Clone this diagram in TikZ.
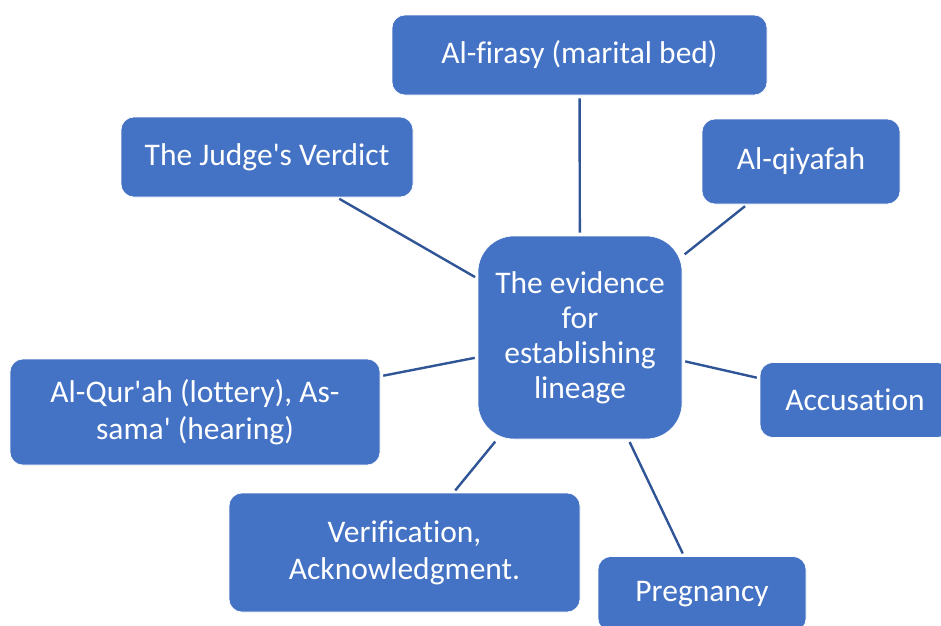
\documentclass[tikz,border=0pt]{standalone}
\usepackage{fontspec}
\setmainfont{Carlito}[Ligatures={TeX,NoCommon}]
\usepackage{tikz}
\usetikzlibrary{positioning}
\definecolor{boxblue}{HTML}{4472C4}
\definecolor{linkblue}{HTML}{2F5597}
\newcommand{\sq}{\textquotesingle}
\tikzset{
  leaf/.style={rectangle,fill=boxblue,draw=white,line width=0.6pt,
               rounded corners=13pt,align=center,text=white,inner sep=2pt,
               font=\fontsize{31.5}{37}\selectfont},
  hubbox/.style={leaf,rounded corners=36pt,
                 font=\fontsize{31.5}{35}\selectfont},
  link/.style={draw=linkblue,line width=2.4pt,shorten <=3pt,shorten >=3pt},
}
\begin{document}
\begin{tikzpicture}[x=1pt,y=-1pt]
  \useasboundingbox (0,0) rectangle (941,625);

  % centre
  \node[hubbox,minimum width=204pt,minimum height=203pt] (hub) at (580,337.5)
    {The evidence\\for\\establishing\\lineage};

  % the evidences around it
  \node[leaf,minimum width=375pt,minimum height=80pt]  (firasy)  at (579.5,55)
    {Al-firasy (marital bed)};
  \node[leaf,minimum width=292pt,minimum height=80pt]  (judge)   at (267,157)
    {The Judge\sq s Verdict};
  \node[leaf,minimum width=198pt,minimum height=85pt]  (qiyafah) at (801,161.5)
    {Al-qiyafah};
  \node[leaf,minimum width=370pt,minimum height=106pt] (qurah)   at (195,412)
    {Al-Qur\sq ah (lottery), As-\\sama\sq{} (hearing)};
  \node[leaf,minimum width=190pt,minimum height=75pt]  (accus)   at (855,400)
    {Accusation};
  \node[leaf,minimum width=351pt,minimum height=119pt] (verif)   at (404.5,552.5)
    {Verification,\\Acknowledgment.};
  \node[leaf,minimum width=208pt,minimum height=75pt]  (preg)    at (702,594)
    {Pregnancy};

  \foreach \leafname in {firasy,judge,qiyafah,qurah,accus,verif,preg}
    \draw[link] (\leafname) -- (hub);
\end{tikzpicture}
\end{document}
